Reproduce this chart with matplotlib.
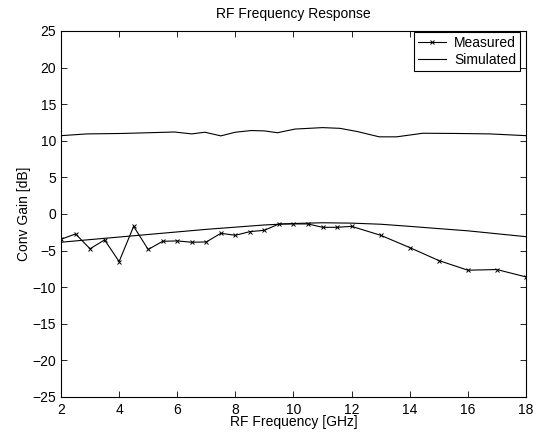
import matplotlib
matplotlib.use('Agg')
import matplotlib.pyplot as plt

plt.rcParams['font.family'] = ['Liberation Sans', 'DejaVu Sans']

# measured conversion gain
meas_freq = [2, 2.5, 3, 3.5, 4, 4.5, 5, 5.5, 6, 6.5, 7, 7.5, 8, 8.5, 9, 9.5,
             10, 10.5, 11, 11.5, 12, 13, 14, 15, 16, 17, 18]
meas_gain = [-3.45, -2.73, -4.75, -3.54, -6.5, -1.69, -4.85, -3.73, -3.68, -3.86,
             -3.82, -2.64, -2.91, -2.41, -2.23, -1.36, -1.36, -1.36, -1.82, -1.82,
             -1.69, -2.91, -4.59, -6.36, -7.68, -7.59, -8.6]

# simulated curves
sim_freq = [2, 3, 4, 5, 6, 7, 8, 9, 10, 11, 12, 13, 14, 15, 16, 17, 18]
sim_gain = [-3.86, -3.5, -3.15, -2.8, -2.45, -2.1, -1.8, -1.5, -1.3, -1.2, -1.25,
            -1.4, -1.69, -2.0, -2.3, -2.7, -3.1]

sim2_freq = [2, 2.9, 4.1, 5.2, 5.9, 6.5, 6.95, 7.5, 8, 8.55, 9, 9.45, 10.05,
             11.0, 11.6, 12.2, 12.95, 13.55, 14.45, 15.6, 16.75, 18]
sim2_gain = [10.7, 10.94, 11.0, 11.12, 11.2, 10.94, 11.17, 10.67, 11.17, 11.4,
             11.35, 11.1, 11.6, 11.8, 11.7, 11.26, 10.54, 10.54, 11.03, 11.0,
             10.94, 10.7]

fig = plt.figure(figsize=(5.36, 4.34), dpi=100)
ax = fig.add_axes([0.1138, 0.0853, 0.8675, 0.8433])

ax.plot(meas_freq, meas_gain, color='black', lw=0.8, marker='x', ms=3.5, mew=0.7, label='Measured')
ax.plot(sim_freq, sim_gain, color='black', lw=0.8, label='Simulated')
ax.plot(sim2_freq, sim2_gain, color='black', lw=0.8)

ax.set_xlim(2, 18)
ax.set_ylim(-25, 25)
ax.set_xticks(range(2, 19, 2))
ax.set_yticks(range(-25, 26, 5))
ax.tick_params(direction='in', top=True, right=True, labelsize=10, length=4, width=0.6)
ax.tick_params(axis='x', pad=4)
for s in ax.spines.values():
    s.set_linewidth(0.8)

ax.set_xlabel('RF Frequency [GHz]', fontsize=10, labelpad=-1)
ax.set_ylabel('Conv Gain [dB]', fontsize=10, labelpad=1)
ax.set_title('RF Frequency Response', fontsize=10, pad=9)

leg = ax.legend(loc='upper right', fontsize=10, fancybox=False, edgecolor='black',
                framealpha=1, bbox_to_anchor=(0.988, 0.997), borderaxespad=0,
                handlelength=2.0, borderpad=0.3, labelspacing=0.2,
                handletextpad=0.6)
leg.get_frame().set_linewidth(0.8)

fig.savefig('out.png', dpi=100)
